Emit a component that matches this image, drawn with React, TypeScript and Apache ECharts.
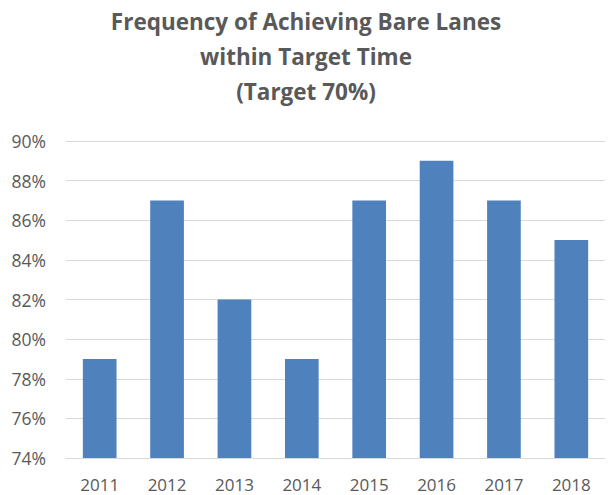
import React, { useEffect, useRef } from "react";
import * as echarts from "echarts";

const titleLines = ["Frequency of Achieving Bare Lanes", "within Target Time", "(Target 70%)"];
const categories = ["2011", "2012", "2013", "2014", "2015", "2016", "2017", "2018"];
const values = [79, 87, 82, 79, 87, 89, 87, 85];
const yMin = 74;
const yMax = 90;
const yStep = 2;

export default function App() {
  const ref = useRef<HTMLDivElement>(null);
  useEffect(() => {
    if (!ref.current) return;
    const chart = echarts.init(ref.current, null, { renderer: "svg" });
    chart.setOption({
      animation: false,
      backgroundColor: "#ffffff",
      title: {
        text: titleLines.join("\n"),
        left: "center",
        top: 4,
        padding: 0,
        textStyle: {
          fontFamily: "Open Sans",
          fontWeight: "bold",
          fontSize: 22.5,
          lineHeight: 35,
          color: "#595959",
        },
      },
      grid: { left: 66, right: 7, top: 141, bottom: 37, containLabel: false },
      xAxis: {
        type: "category",
        data: categories,
        axisLine: { show: true, lineStyle: { color: "#d9d9d9", width: 1 } },
        axisTick: { show: false },
        axisLabel: {
          color: "#595959",
          fontFamily: "Open Sans",
          fontSize: 17,
          lineHeight: 18,
          margin: 17,
        },
      },
      yAxis: {
        type: "value",
        min: yMin,
        max: yMax,
        interval: yStep,
        axisLine: { show: false },
        axisTick: { show: false },
        splitLine: { lineStyle: { color: "#d9d9d9", width: 1 } },
        axisLabel: {
          color: "#595959",
          fontFamily: "Open Sans",
          fontSize: 17.5,
          margin: 20,
          formatter: (v: number) => `${v}%`,
        },
      },
      series: [
        {
          type: "bar",
          data: values,
          barWidth: "50%",
          itemStyle: { color: "#4f81bd" },
        },
      ],
    });
    return () => chart.dispose();
  }, []);
  return <div ref={ref} style={{ position: "fixed", left: 0, top: 0, width: 612, height: 495 }} />;
}
